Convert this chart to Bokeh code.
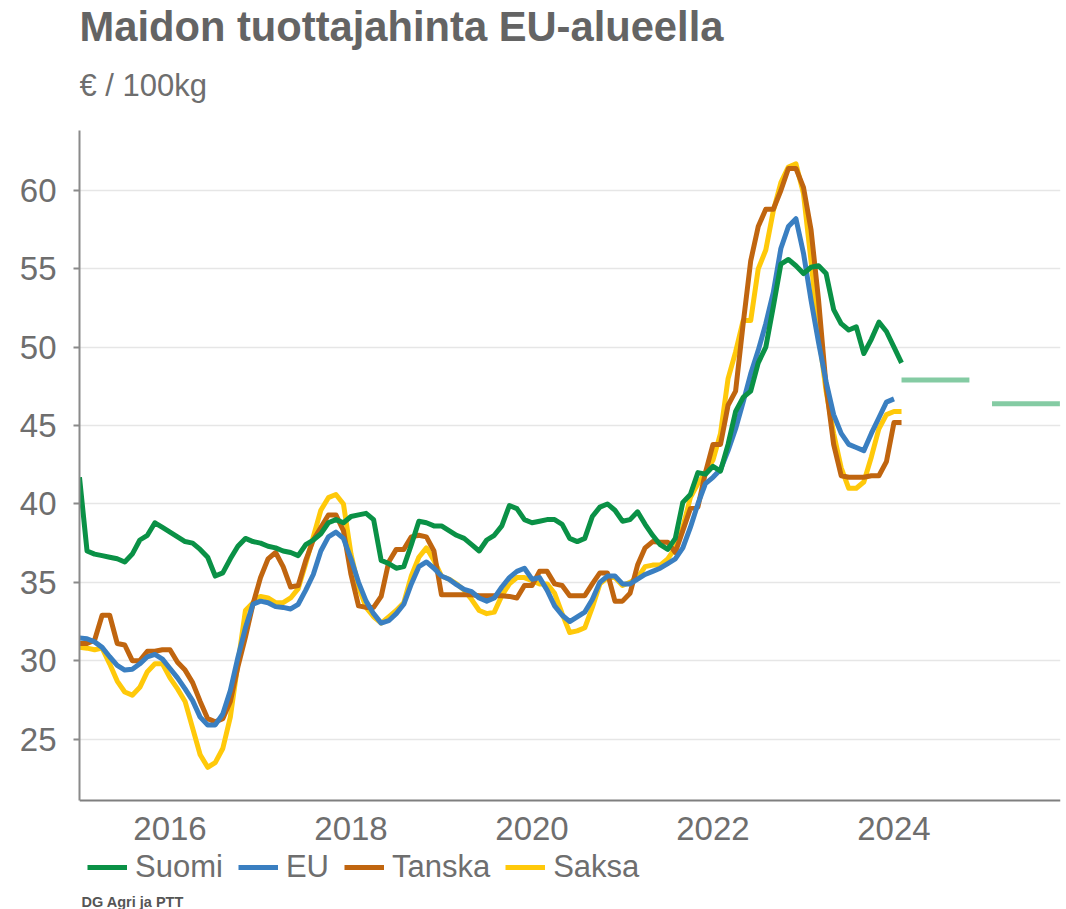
from bokeh.plotting import figure
from bokeh.models import Range1d, FixedTicker, Legend, LegendItem, Label
from bokeh.embed import file_html
from bokeh.resources import INLINE

# ---------------- data ----------------
START_YEAR = 2015  # first month = January 2015, monthly data

suomi = [41.7, 37.0, 36.8, 36.7, 36.6, 36.5, 36.3, 36.8, 37.7, 38.0,
         38.8, 38.5, 38.2, 37.9, 37.6, 37.5, 37.1, 36.6, 35.4, 35.6,
         36.5, 37.3, 37.8, 37.6, 37.5, 37.3, 37.2, 37.0, 36.9, 36.7,
         37.4, 37.7, 38.1, 38.8, 39.0, 38.8, 39.2, 39.3, 39.4, 39.0,
         36.4, 36.2, 35.9, 36.0, 37.4, 38.9, 38.8, 38.6, 38.6, 38.3,
         38.0, 37.8, 37.4, 37.0, 37.7, 38.0, 38.6, 39.9, 39.7, 39.0,
         38.8, 38.9, 39.0, 39.0, 38.7, 37.8, 37.6, 37.8, 39.2, 39.8,
         40.0, 39.6, 38.9, 39.0, 39.5, 38.7, 38.0, 37.4, 37.1, 37.8,
         40.1, 40.6, 42.0, 41.9, 42.4, 42.1, 43.8, 45.9, 46.8, 47.2,
         49.0, 50.0, 52.6, 55.3, 55.6, 55.2, 54.7, 55.1, 55.2, 54.7,
         52.4, 51.5, 51.1, 51.3, 49.6, 50.5, 51.6, 51.0, 50.0, 49.0]

eu = [31.45, 31.4, 31.2, 30.85, 30.25, 29.7, 29.4, 29.45, 29.8, 30.25,
      30.4, 30.1, 29.5, 28.9, 28.2, 27.45, 26.4, 25.9, 25.9, 26.6,
      28.1, 30.2, 32.1, 33.6, 33.8, 33.7, 33.45, 33.4, 33.3, 33.6,
      34.5, 35.5, 37.0, 37.9, 38.2, 37.8, 36.5, 35.0, 33.8, 33.0,
      32.4, 32.55, 33.0, 33.6, 34.9, 36.0, 36.3, 35.9, 35.4, 35.2,
      34.85, 34.55, 34.4, 34.0, 33.8, 34.0, 34.7, 35.3, 35.7, 35.9,
      35.2, 35.3, 34.5, 33.5, 32.9, 32.5, 32.8, 33.1, 33.9, 35.0,
      35.4, 35.4, 34.9, 34.9, 35.2, 35.5, 35.7, 35.9, 36.2, 36.5,
      37.2, 38.5, 40.0, 41.3, 41.7, 42.2, 43.4, 44.8, 46.5, 48.3,
      49.8, 51.5, 53.5, 56.3, 57.7, 58.2, 56.0, 53.0, 50.3, 47.8,
      45.7, 44.5, 43.8, 43.6, 43.4, 44.5, 45.5, 46.5, 46.7]

tanska = [31.1, 31.1, 31.3, 32.9, 32.9, 31.1, 31.0, 30.0, 30.0, 30.6,
          30.6, 30.7, 30.7, 29.9, 29.4, 28.6, 27.4, 26.3, 26.1, 26.3,
          27.4, 29.6, 31.5, 33.6, 35.3, 36.5, 36.9, 36.0, 34.7, 34.8,
          36.4, 37.7, 38.5, 39.3, 39.3, 38.3, 35.5, 33.5, 33.4, 33.4,
          34.1, 36.3, 37.1, 37.1, 37.9, 38.0, 37.9, 37.0, 34.2, 34.2,
          34.2, 34.2, 34.2, 34.15, 34.15, 34.15, 34.15, 34.1, 34.0, 34.8,
          34.8, 35.7, 35.7, 34.9, 34.8, 34.15, 34.15, 34.15, 34.9, 35.6,
          35.6, 33.8, 33.8, 34.3, 36.1, 37.2, 37.6, 37.55, 37.55, 36.9,
          38.3, 39.7, 39.8, 42.0, 43.8, 43.8, 46.3, 47.2, 51.5, 55.5,
          57.7, 58.8, 58.8, 60.0, 61.4, 61.4, 60.2, 57.5, 53.0, 47.5,
          43.8, 41.8, 41.7, 41.7, 41.7, 41.8, 41.8, 42.7, 45.2, 45.2]

saksa = [30.85, 30.8, 30.7, 30.8, 29.8, 28.7, 28.0, 27.8, 28.3, 29.3,
         29.8, 29.8, 28.9, 28.2, 27.4, 25.7, 24.0, 23.2, 23.5, 24.4,
         26.4, 29.8, 33.2, 33.7, 34.1, 34.0, 33.7, 33.7, 34.0, 34.6,
         36.2, 37.9, 39.6, 40.4, 40.6, 40.0, 36.8, 34.7, 33.4, 32.8,
         32.4, 32.8, 33.2, 33.7, 35.4, 36.6, 37.2, 36.4, 35.4, 35.2,
         34.9, 34.5, 33.9, 33.2, 33.0, 33.1, 34.15, 34.9, 35.3, 35.3,
         35.1, 34.9, 34.9, 34.3, 33.0, 31.8, 31.9, 32.1, 33.4, 34.9,
         35.3, 35.3, 34.8, 35.0, 35.3, 36.0, 36.1, 36.1, 36.5, 37.2,
         38.5, 40.4, 41.3, 42.0, 42.8, 44.5, 48.0, 49.7, 51.7, 51.7,
         55.0, 56.2, 58.7, 60.5, 61.5, 61.7, 59.8, 55.5, 50.9, 47.2,
         44.5, 42.3, 41.0, 41.0, 41.4, 43.0, 44.8, 45.7, 45.9, 45.9]

forecast_years = [2024, 2025]
forecast_suomi = [47.9, 46.4]

series_names = ["Suomi", "EU", "Tanska", "Saksa"]
x_ticks = [2016, 2018, 2020, 2022, 2024]
x_tick_labels = ["2016", "2018", "2020", "2022", "2024"]
y_ticks = [25, 30, 35, 40, 45, 50, 55, 60]

title_text = "Maidon tuottajahinta EU-alueella"
subtitle_text = "€ / 100kg"
source_text = "DG Agri ja PTT"

# ---------------- styling / layout ----------------
COLORS = {"Suomi": "#0a9146", "EU": "#3a7fc1", "Tanska": "#c0650f", "Saksa": "#ffc90a"}
FC_COLOR = "#84cba3"
TEXT = "#6e6e6e"
FONT = "Liberation Sans"
TICK_FS = "33px"
LW = 5

FRAME_H = 909            # frame spans the whole canvas height
PX_PER_UNIT = 15.674     # vertical scale of the value axis
Y_VIEW_HI = 72.12        # value at the canvas top (room for the titles)
Y_VIEW_LO = Y_VIEW_HI - FRAME_H / PX_PER_UNIT
Y_AXIS_LO, Y_AXIS_HI = 21.08, 63.82   # visible extent of the value axis


def months(n):
    return [START_YEAR + i / 12 for i in range(n)]


p = figure(frame_width=981, frame_height=FRAME_H, output_backend="svg",
           toolbar_location=None,
           x_range=Range1d(2015, 2025.84), y_range=Range1d(Y_VIEW_LO, Y_VIEW_HI),
           min_border_left=79, min_border_right=6, min_border_top=0,
           min_border_bottom=0)
p.outline_line_color = None
p.background_fill_color = "white"
p.border_fill_color = "white"

# grid
p.xgrid.visible = False
p.ygrid.grid_line_color = "#e6e6e6"
p.ygrid.grid_line_width = 1.5

# value axis
p.yaxis.ticker = FixedTicker(ticks=y_ticks)
p.yaxis.bounds = (Y_AXIS_LO, Y_AXIS_HI)
p.yaxis.axis_line_color = "#8a8a8a"
p.yaxis.axis_line_width = 2
p.yaxis.major_tick_line_color = "#8a8a8a"
p.yaxis.major_tick_line_width = 2
p.yaxis.major_tick_out = 6
p.yaxis.major_tick_in = 0
p.yaxis.minor_tick_line_color = None
p.yaxis.major_label_standoff = 17
p.yaxis.major_label_text_font = FONT
p.yaxis.major_label_text_font_size = TICK_FS
p.yaxis.major_label_text_color = TEXT

# time axis, pinned at the bottom of the value axis
p.xaxis.fixed_location = Y_AXIS_LO
p.xaxis.ticker = FixedTicker(ticks=x_ticks)
p.xaxis.major_label_overrides = {t: l for t, l in zip(x_ticks, x_tick_labels)}
p.xaxis.axis_line_color = "#7f7f7f"
p.xaxis.axis_line_width = 2
p.xaxis.major_tick_line_color = None
p.xaxis.major_tick_out = 0
p.xaxis.major_tick_in = 0
p.xaxis.minor_tick_line_color = None
p.xaxis.major_label_standoff = 16
p.xaxis.major_label_text_font = FONT
p.xaxis.major_label_text_font_size = TICK_FS
p.xaxis.major_label_text_color = TEXT

# lines (drawn so that Suomi is on top)
data = {"Suomi": suomi, "EU": eu, "Tanska": tanska, "Saksa": saksa}
renderers = {}
for name in ["Saksa", "Tanska", "EU", "Suomi"]:
    vals = data[name]
    renderers[name] = p.line(months(len(vals)), vals, line_color=COLORS[name],
                             line_width=LW, line_join="round")

# forecast segments (annual averages for Suomi, drawn Feb..Nov of each year)
p.segment(x0=[y + 1 / 12 for y in forecast_years],
          x1=[y + 10 / 12 for y in forecast_years],
          y0=forecast_suomi, y1=forecast_suomi,
          line_color=FC_COLOR, line_width=LW)

# legend near the bottom of the canvas
legend = Legend(items=[LegendItem(label=n, renderers=[renderers[n]]) for n in series_names],
                orientation="horizontal", location=(8, 24), padding=0, margin=0,
                spacing=15, label_standoff=8, glyph_width=40, glyph_height=30,
                label_text_font=FONT, label_text_font_size="31px",
                label_text_color=TEXT, border_line_color=None,
                background_fill_alpha=0)
p.add_layout(legend)

# title, subtitle and source note
p.add_layout(Label(x=0, y=FRAME_H - 25.5, x_units="screen", y_units="screen",
                   text=title_text, text_font=FONT, text_font_style="bold",
                   text_font_size="41.7px", text_color="#646464",
                   text_baseline="middle"))
p.add_layout(Label(x=0, y=FRAME_H - 85.3, x_units="screen", y_units="screen",
                   text=subtitle_text, text_font=FONT, text_font_size="31px",
                   text_color=TEXT, text_baseline="middle"))
p.add_layout(Label(x=2, y=8, x_units="screen", y_units="screen",
                   text=source_text, text_font=FONT, text_font_style="bold",
                   text_font_size="14.5px", text_color="#555555",
                   text_baseline="middle"))

open("out.html", "w").write(file_html(p, INLINE))
